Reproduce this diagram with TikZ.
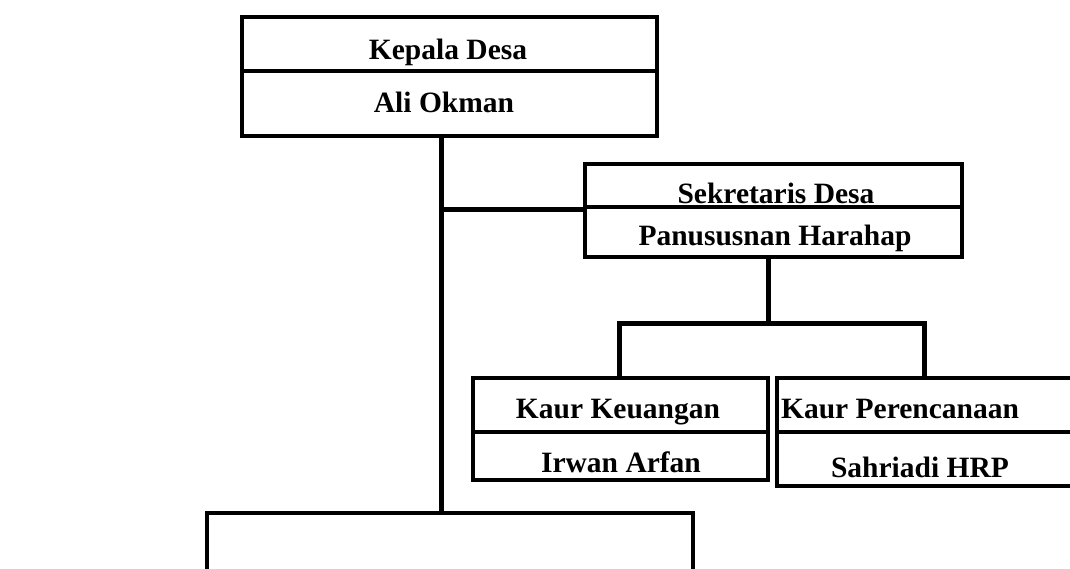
\documentclass[tikz,border=0pt]{standalone}
\usepackage{fontspec}
\setmainfont{Liberation Serif}
\begin{document}
\begin{tikzpicture}[x=1pt,y=-1pt,
  cell/.style={draw,line width=4pt,rectangle,inner sep=0pt},
  conn/.style={line width=5pt},
  lbl/.style={anchor=base,inner sep=0pt,font=\fontsize{29.5}{35}\selectfont\bfseries}]
\useasboundingbox (0,0) rectangle (1070,568);
% boxes
\node[cell,minimum width=415pt,minimum height=54pt] (kt) at (449.5,44) {};
\node[cell,minimum width=415pt,minimum height=65pt] (kb) at (449.5,103.5) {};
\node[cell,minimum width=377pt,minimum height=43pt] (st) at (773.5,185.5) {};
\node[cell,minimum width=377pt,minimum height=50pt] (sb) at (773.5,232) {};
\node[cell,minimum width=295pt,minimum height=54pt] (ut) at (620.5,405) {};
\node[cell,minimum width=295pt,minimum height=48pt] (ub) at (620.5,456) {};
\node[cell,minimum width=300pt,minimum height=54pt] (pt) at (927,405) {};
\node[cell,minimum width=300pt,minimum height=54pt] (pb) at (927,459) {};
\node[cell,minimum width=486pt,minimum height=100pt] (bt) at (450,563) {};
% labels
\node[lbl] (l1) at (448,59) {Kepala Desa};
\node[lbl] (l2) at (444,112) {Ali Okman};
\node[lbl] (l3) at (776,203) {Sekretaris Desa};
\node[lbl] (l4) at (775,245) {Panususnan Harahap};
\node[lbl] (l5) at (618,418) {Kaur Keuangan};
\node[lbl] (l6) at (621,472) {Irwan Arfan};
\node[lbl] (l7) at (900,418) {Kaur Perencanaan};
\node[lbl] (l8) at (920,477) {Sahriadi HRP};
% connectors
\coordinate (tb) at (441,513);
\coordinate (bar) at (768,323);
\coordinate (j1) at (619,323);
\coordinate (j2) at (924,323);
\draw[conn] (kb.south -| tb) -- (tb);
\draw[conn] (tb |- st.south west) -- (st.south west);
\draw[conn] (sb.south -| bar) -- (bar);
\draw[conn] (ut.north -| j1) -- (j1) -- (j2) -- (pt.north -| j2);
\end{tikzpicture}
\end{document}
